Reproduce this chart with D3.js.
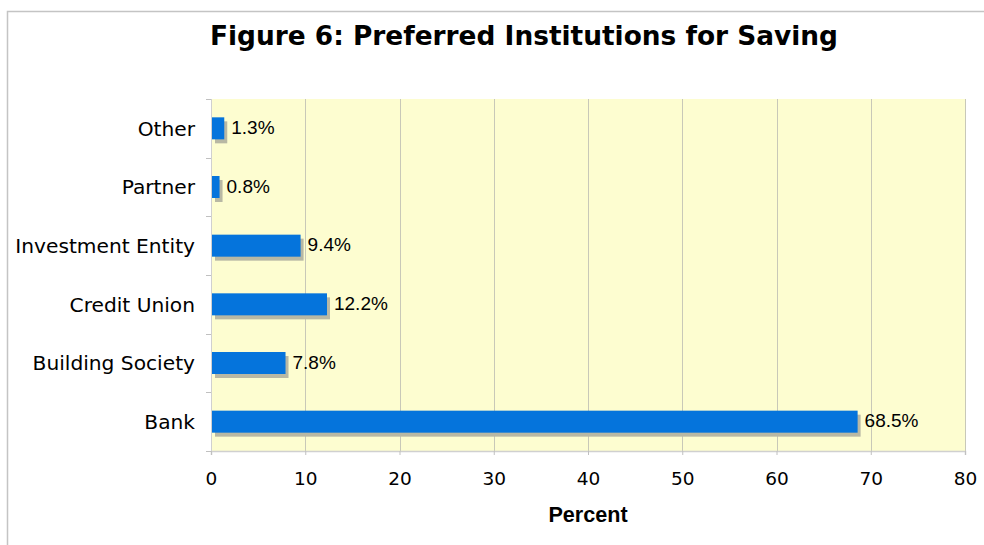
<!DOCTYPE html>
<html>
<head>
<meta charset="utf-8">
<script src="https://cdn.jsdelivr.net/npm/d3@7/dist/d3.min.js"></script>
<style>
  body { margin: 0; background: #fff; }
  svg { display: block; }
</style>
</head>
<body>
<div id="chart"></div>
<script>
// data
var categories = ['Other', 'Partner', 'Investment Entity', 'Credit Union', 'Building Society', 'Bank'];
var values = [1.3, 0.8, 9.4, 12.2, 7.8, 68.5];
var xTicks = [0, 10, 20, 30, 40, 50, 60, 70, 80];

var width = 984, height = 545;
var margin = {top: 99, right: 19, bottom: 94, left: 211};

var svg = d3.select('#chart').append('svg')
  .attr('width', width)
  .attr('height', height);

// outer frame
svg.append('path')
  .attr('d', 'M7.5,' + height + 'V11.5H' + width)
  .attr('fill', 'none')
  .attr('stroke', '#c4c4c4')
  .attr('stroke-width', 1.5);

svg.append('text')
  .attr('x', 524)
  .attr('y', 45)
  .attr('text-anchor', 'middle')
  .style('font-family', 'DejaVu Sans, Verdana, sans-serif')
  .style('font-weight', 'bold')
  .style('font-size', '26.4px')
  .text('Figure 6: Preferred Institutions for Saving');

var x = d3.scaleLinear().domain([0, 80]).range([margin.left, width - margin.right]);
var y = d3.scaleBand().domain(categories).range([margin.top, height - margin.bottom]);

var g = svg.append('g');

// plot background
g.append('rect')
  .attr('x', x(0))
  .attr('y', y.range()[0])
  .attr('width', x(80) - x(0))
  .attr('height', y.range()[1] - y.range()[0])
  .attr('fill', '#fdfdd0');

// grid lines
g.selectAll('.grid').data(xTicks.slice(1)).enter().append('line')
  .attr('class', 'grid')
  .attr('x1', function(d){ return Math.round(x(d)) + 0.5; })
  .attr('x2', function(d){ return Math.round(x(d)) + 0.5; })
  .attr('y1', y.range()[0])
  .attr('y2', y.range()[1])
  .attr('stroke', '#c8c8b8')
  .attr('stroke-width', 1);

// axes
var xAxis = d3.axisBottom(x).tickValues(xTicks).tickSize(4).tickPadding(17);
var gx = svg.append('g')
  .attr('transform', 'translate(0,' + (height - margin.bottom) + ')')
  .call(xAxis);
gx.select('.domain').attr('stroke', '#d0d0d0').attr('stroke-width', 1.5);
gx.selectAll('.tick line').attr('stroke', '#c0c0c0');
gx.selectAll('.tick text')
  .style('font-family', 'DejaVu Sans, Verdana, sans-serif')
  .style('font-size', '18.5px')
  .attr('fill', '#000');

// band boundary ticks on the left
var bounds = categories.map(function(c){ return y(c); }).concat([y.range()[1]]);
svg.selectAll('.ytick').data(bounds).enter().append('line')
  .attr('class', 'ytick')
  .attr('x1', x(0) - 5)
  .attr('x2', x(0))
  .attr('y1', function(d){ return Math.round(d) + 0.5; })
  .attr('y2', function(d){ return Math.round(d) + 0.5; })
  .attr('stroke', '#c0c0c0');

svg.append('line')
  .attr('x1', x(0) + 0.5).attr('x2', x(0) + 0.5)
  .attr('y1', y.range()[0]).attr('y2', y.range()[1])
  .attr('stroke', '#d0d0d0').attr('stroke-width', 1);

svg.selectAll('.ylabel').data(categories).enter().append('text')
  .attr('class', 'ylabel')
  .attr('x', x(0) - 16)
  .attr('y', function(d){ return y(d) + y.bandwidth() / 2; })
  .attr('dy', '0.36em')
  .attr('text-anchor', 'end')
  .style('font-family', 'DejaVu Sans, Verdana, sans-serif')
  .style('font-size', '20.2px')
  .text(function(d){ return d; });

// bars with drop shadow
var barH = 22;
var rows = categories.map(function(c, i){ return {cat: c, val: values[i]}; });

g.selectAll('.shadow').data(rows).enter().append('rect')
  .attr('class', 'shadow')
  .attr('x', x(0) + 4)
  .attr('y', function(d){ return y(d.cat) + (y.bandwidth() - barH) / 2 + 4; })
  .attr('width', function(d){ return x(d.val) - x(0); })
  .attr('height', barH)
  .attr('fill', '#b8b8a4');

g.selectAll('.bar').data(rows).enter().append('rect')
  .attr('class', 'bar')
  .attr('x', x(0) + 1)
  .attr('y', function(d){ return y(d.cat) + (y.bandwidth() - barH) / 2; })
  .attr('width', function(d){ return x(d.val) - x(0); })
  .attr('height', barH)
  .attr('fill', '#0574dc');

g.selectAll('.vlabel').data(rows).enter().append('text')
  .attr('class', 'vlabel')
  .attr('x', function(d){ return x(d.val) + 8; })
  .attr('y', function(d){ return y(d.cat) + y.bandwidth() / 2; })
  .attr('dy', '0.3em')
  .style('font-family', 'Liberation Sans, Arial, sans-serif')
  .style('font-size', '19px')
  .text(function(d){ return d.val.toFixed(1) + '%'; });

svg.append('text')
  .attr('x', x(40))
  .attr('y', 522)
  .attr('text-anchor', 'middle')
  .style('font-family', 'Liberation Sans, Arial, sans-serif')
  .style('font-weight', 'bold')
  .style('font-size', '21.6px')
  .text('Percent');
</script>
</body>
</html>
